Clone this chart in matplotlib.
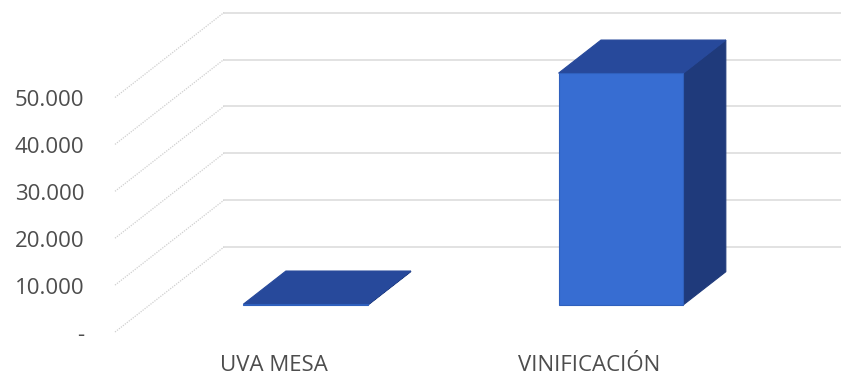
import matplotlib.pyplot as plt
from matplotlib.patches import Polygon

categories = ['UVA MESA', 'VINIFICACIÓN']
values = [150, 49400]
tick_values = [0, 10000, 20000, 30000, 40000, 50000]
tick_labels = ['-', '10.000', '20.000', '30.000', '40.000', '50.000']

FRONT = '#376dd2'
TOP = '#27499b'
SIDE = '#1f3a7b'
GRID = '#e2e2e2'
TEXT = '#4d4d4d'

# oblique projection: how far one full unit of depth shifts a point
DX = 0.349      # in category units
DY = 18100      # in value units
BAR_W = 0.4
D0, D1 = 0.32, 0.71   # bar depth span inside the floor


def proj(x, y, d):
    return (x + d * DX, y + d * DY)


fig = plt.figure(figsize=(8.41, 3.76), dpi=100)
ax = fig.add_axes([0, 0, 1, 1])
ax.set_xlim(-0.3686, 2.327)
ax.set_ylim(-9382, 70789)
ax.axis('off')

# back wall gridlines and side wall diagonals
for t in tick_values:
    x0, y0 = proj(0, t, 1)
    ax.plot([x0, 2.4], [y0, y0], color=GRID, lw=1.4, zorder=1)
    xa, ya = proj(0, t, 0)
    ax.plot([xa, x0], [ya, y0], color='#cfcfcf', lw=0.9,
            linestyle=(0, (1, 1)), zorder=1)

for t, lab in zip(tick_values, tick_labels):
    ax.text(-0.098, t - 700, lab, ha='right', va='center', fontsize=16,
            color=TEXT, family='Open Sans')

for i, (cat, v) in enumerate(zip(categories, values)):
    c = i * 1.01 + 0.5
    xl, xr = c - BAR_W / 2, c + BAR_W / 2
    side = [proj(xr, 0, D0), proj(xr, v, D0), proj(xr, v, D1), proj(xr, 0, D1)]
    top = [proj(xl, v, D0), proj(xr, v, D0), proj(xr, v, D1), proj(xl, v, D1)]
    front = [proj(xl, 0, D0), proj(xr, 0, D0), proj(xr, v, D0), proj(xl, v, D0)]
    ax.add_patch(Polygon(side, closed=True, fc=SIDE, ec=SIDE, lw=0.8, zorder=3))
    ax.add_patch(Polygon(top, closed=True, fc=TOP, ec=TOP, lw=0.8, zorder=3))
    ax.add_patch(Polygon(front, closed=True, fc=FRONT, ec='#2f60bd', lw=0.8, zorder=4))
    ax.text(c + 0.01, -7200, cat, ha='center', va='center', fontsize=16,
            color=TEXT, family='Open Sans')

fig.savefig('out.png', dpi=100)
